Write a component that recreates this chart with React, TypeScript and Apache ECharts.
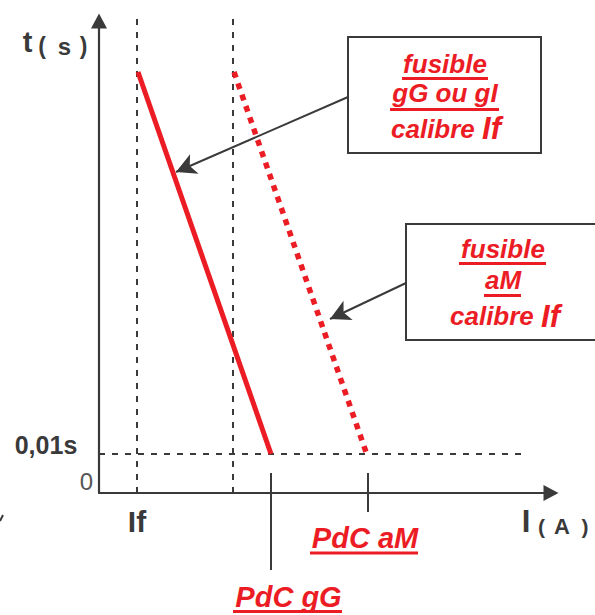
import React, { useEffect, useRef } from "react";
import * as echarts from "echarts";

// Schematic units (arbitrary current / time units)
const gGCurve = [[39, 421], [172, 39]];
const aMCurve = [[135, 421], [267, 41]];
const ifGuide = [[38, 0], [38, 480]];
const secondGuide = [[134, 0], [134, 480]];
const level001 = [[0, 39], [426, 39]];
const pdcGGTick = [[172, 20], [172, -77]];
const pdcAMTick = [[269, 20], [269, -19]];
const arrowGG = [[249, 396], [77, 321]];
const arrowAM = [[307, 210], [231, 174]];

const RED = "#ec1c24";
const DARK = "#3a3a3a";
const FONT = "'Liberation Sans', Arial, Helvetica, sans-serif";

function txt(text: string, x: number, y: number, size: number, opts: any = {}) {
  return {
    type: "text",
    silent: true,
    style: {
      text,
      x,
      y,
      fill: opts.fill || DARK,
      fontSize: size,
      fontWeight: opts.weight || "bold",
      fontStyle: opts.italic ? "italic" : "normal",
      fontFamily: FONT,
      align: opts.align || "center",
      verticalAlign: "middle",
      textAlign: opts.align || "center",
      textVerticalAlign: "middle",
      rich: opts.rich,
    },
  };
}

function underline(x1: number, x2: number, y: number) {
  return {
    type: "rect",
    silent: true,
    shape: { x: x1, y, width: x2 - x1, height: 3 },
    style: { fill: RED },
  };
}

const calibreRich = {
  a: { fontSize: 26, fontWeight: "bold", fontStyle: "italic", fontFamily: FONT, fill: RED },
  b: { fontSize: 31, fontWeight: "bold", fontStyle: "italic", fontFamily: FONT, fill: RED },
};

export default function App() {
  const ref = useRef<HTMLDivElement>(null);
  useEffect(() => {
    const chart = echarts.init(ref.current!, null, { renderer: "svg" });
    const guideStyle = { color: DARK, width: 2, type: [6, 7] };
    const plain = (data: number[][], lineStyle: any, z = 2) => ({
      type: "line",
      data,
      symbol: "none",
      showSymbol: false,
      silent: true,
      clip: false,
      z,
      lineStyle,
    });
    chart.setOption({
      animation: false,
      backgroundColor: "#ffffff",
      grid: { left: 99, right: 44, top: 21, bottom: 122 },
      xAxis: {
        type: "value",
        min: 0,
        max: 452,
        axisLine: {
          show: true,
          symbol: ["none", "triangle"],
          symbolSize: [16, 15],
          lineStyle: { color: DARK, width: 2.2 },
        },
        axisTick: { show: false },
        axisLabel: { show: false },
        splitLine: { show: false },
      },
      yAxis: {
        type: "value",
        min: 0,
        max: 472,
        axisLine: {
          show: true,
          symbol: ["none", "triangle"],
          symbolSize: [16, 15],
          lineStyle: { color: DARK, width: 2.2 },
        },
        axisTick: { show: false },
        axisLabel: { show: false },
        splitLine: { show: false },
      },
      series: [
        plain(ifGuide, guideStyle, 1),
        plain(secondGuide, guideStyle, 1),
        plain(level001, guideStyle, 1),
        plain(pdcGGTick, { color: DARK, width: 2 }, 1),
        plain(pdcAMTick, { color: DARK, width: 2 }, 1),
        plain(gGCurve, { color: RED, width: 5 }, 3),
        plain(aMCurve, { color: RED, width: 5.5, type: [6, 6] }, 3),
        {
          type: "line",
          data: [],
          silent: true,
          markLine: {
            silent: true,
            symbol: ["none", "arrow"],
            symbolSize: [16, 20],
            label: { show: false },
            lineStyle: { color: DARK, width: 2, type: "solid" },
            data: [
              [{ coord: arrowGG[0] }, { coord: arrowGG[1] }],
              [{ coord: arrowAM[0] }, { coord: arrowAM[1] }],
            ],
          },
        },
      ],
      graphic: [
        // axis titles
        txt("t", 27.5, 42, 29),
        txt("(", 42, 46, 23),
        txt("s", 64.5, 46, 24),
        txt(")", 83.5, 46, 23),
        txt("I", 526, 521, 31),
        txt("(", 541.5, 526, 21),
        txt("A", 562, 526, 22),
        txt(")", 585, 526, 21),
        txt("0,01s", 46, 444.5, 25),
        txt("0", 86.5, 481, 24, { weight: "normal", fill: "#555" }),
        txt("If", 137, 521.5, 30),
        // PdC labels
        txt("PdC aM", 365, 537.5, 29, { italic: true, fill: RED }),
        underline(310, 418, 551.5),
        txt("PdC gG", 288.5, 597, 29, { italic: true, fill: RED }),
        underline(233, 342, 610),
        // tiny mark at left edge
        {
          type: "line",
          silent: true,
          shape: { x1: 0, y1: 521, x2: 3, y2: 515 },
          style: { stroke: DARK, lineWidth: 2 },
        },
        // box 1
        {
          type: "rect",
          silent: true,
          shape: { x: 348, y: 37, width: 193, height: 116 },
          style: { fill: "#ffffff", stroke: DARK, lineWidth: 2 },
          z: 10,
        },
        { ...txt("fusible", 445, 64, 26, { italic: true, fill: RED }), z: 11 },
        { ...underline(402, 488, 77), z: 11 },
        { ...txt("gG ou gI", 445, 93, 26, { italic: true, fill: RED }), z: 11 },
        { ...underline(390, 499, 108), z: 11 },
        {
          ...txt("{a|calibre }{b|If}", 446, 128.5, 26, { italic: true, fill: RED, rich: calibreRich }),
          z: 11,
        },
        // box 2
        {
          type: "rect",
          silent: true,
          shape: { x: 406, y: 224, width: 200, height: 116 },
          style: { fill: "#ffffff", stroke: DARK, lineWidth: 2 },
          z: 10,
        },
        { ...txt("fusible", 503, 249, 26, { italic: true, fill: RED }), z: 11 },
        { ...underline(459, 546, 262), z: 11 },
        { ...txt("aM", 503, 280, 26, { italic: true, fill: RED }), z: 11 },
        { ...underline(484, 521, 294), z: 11 },
        {
          ...txt("{a|calibre }{b|If}", 505, 316, 26, { italic: true, fill: RED, rich: calibreRich }),
          z: 11,
        },
      ],
    });
    return () => chart.dispose();
  }, []);
  return (
    <div
      ref={ref}
      style={{ position: "fixed", left: 0, top: 0, width: 595, height: 615, background: "#fff" }}
    />
  );
}
